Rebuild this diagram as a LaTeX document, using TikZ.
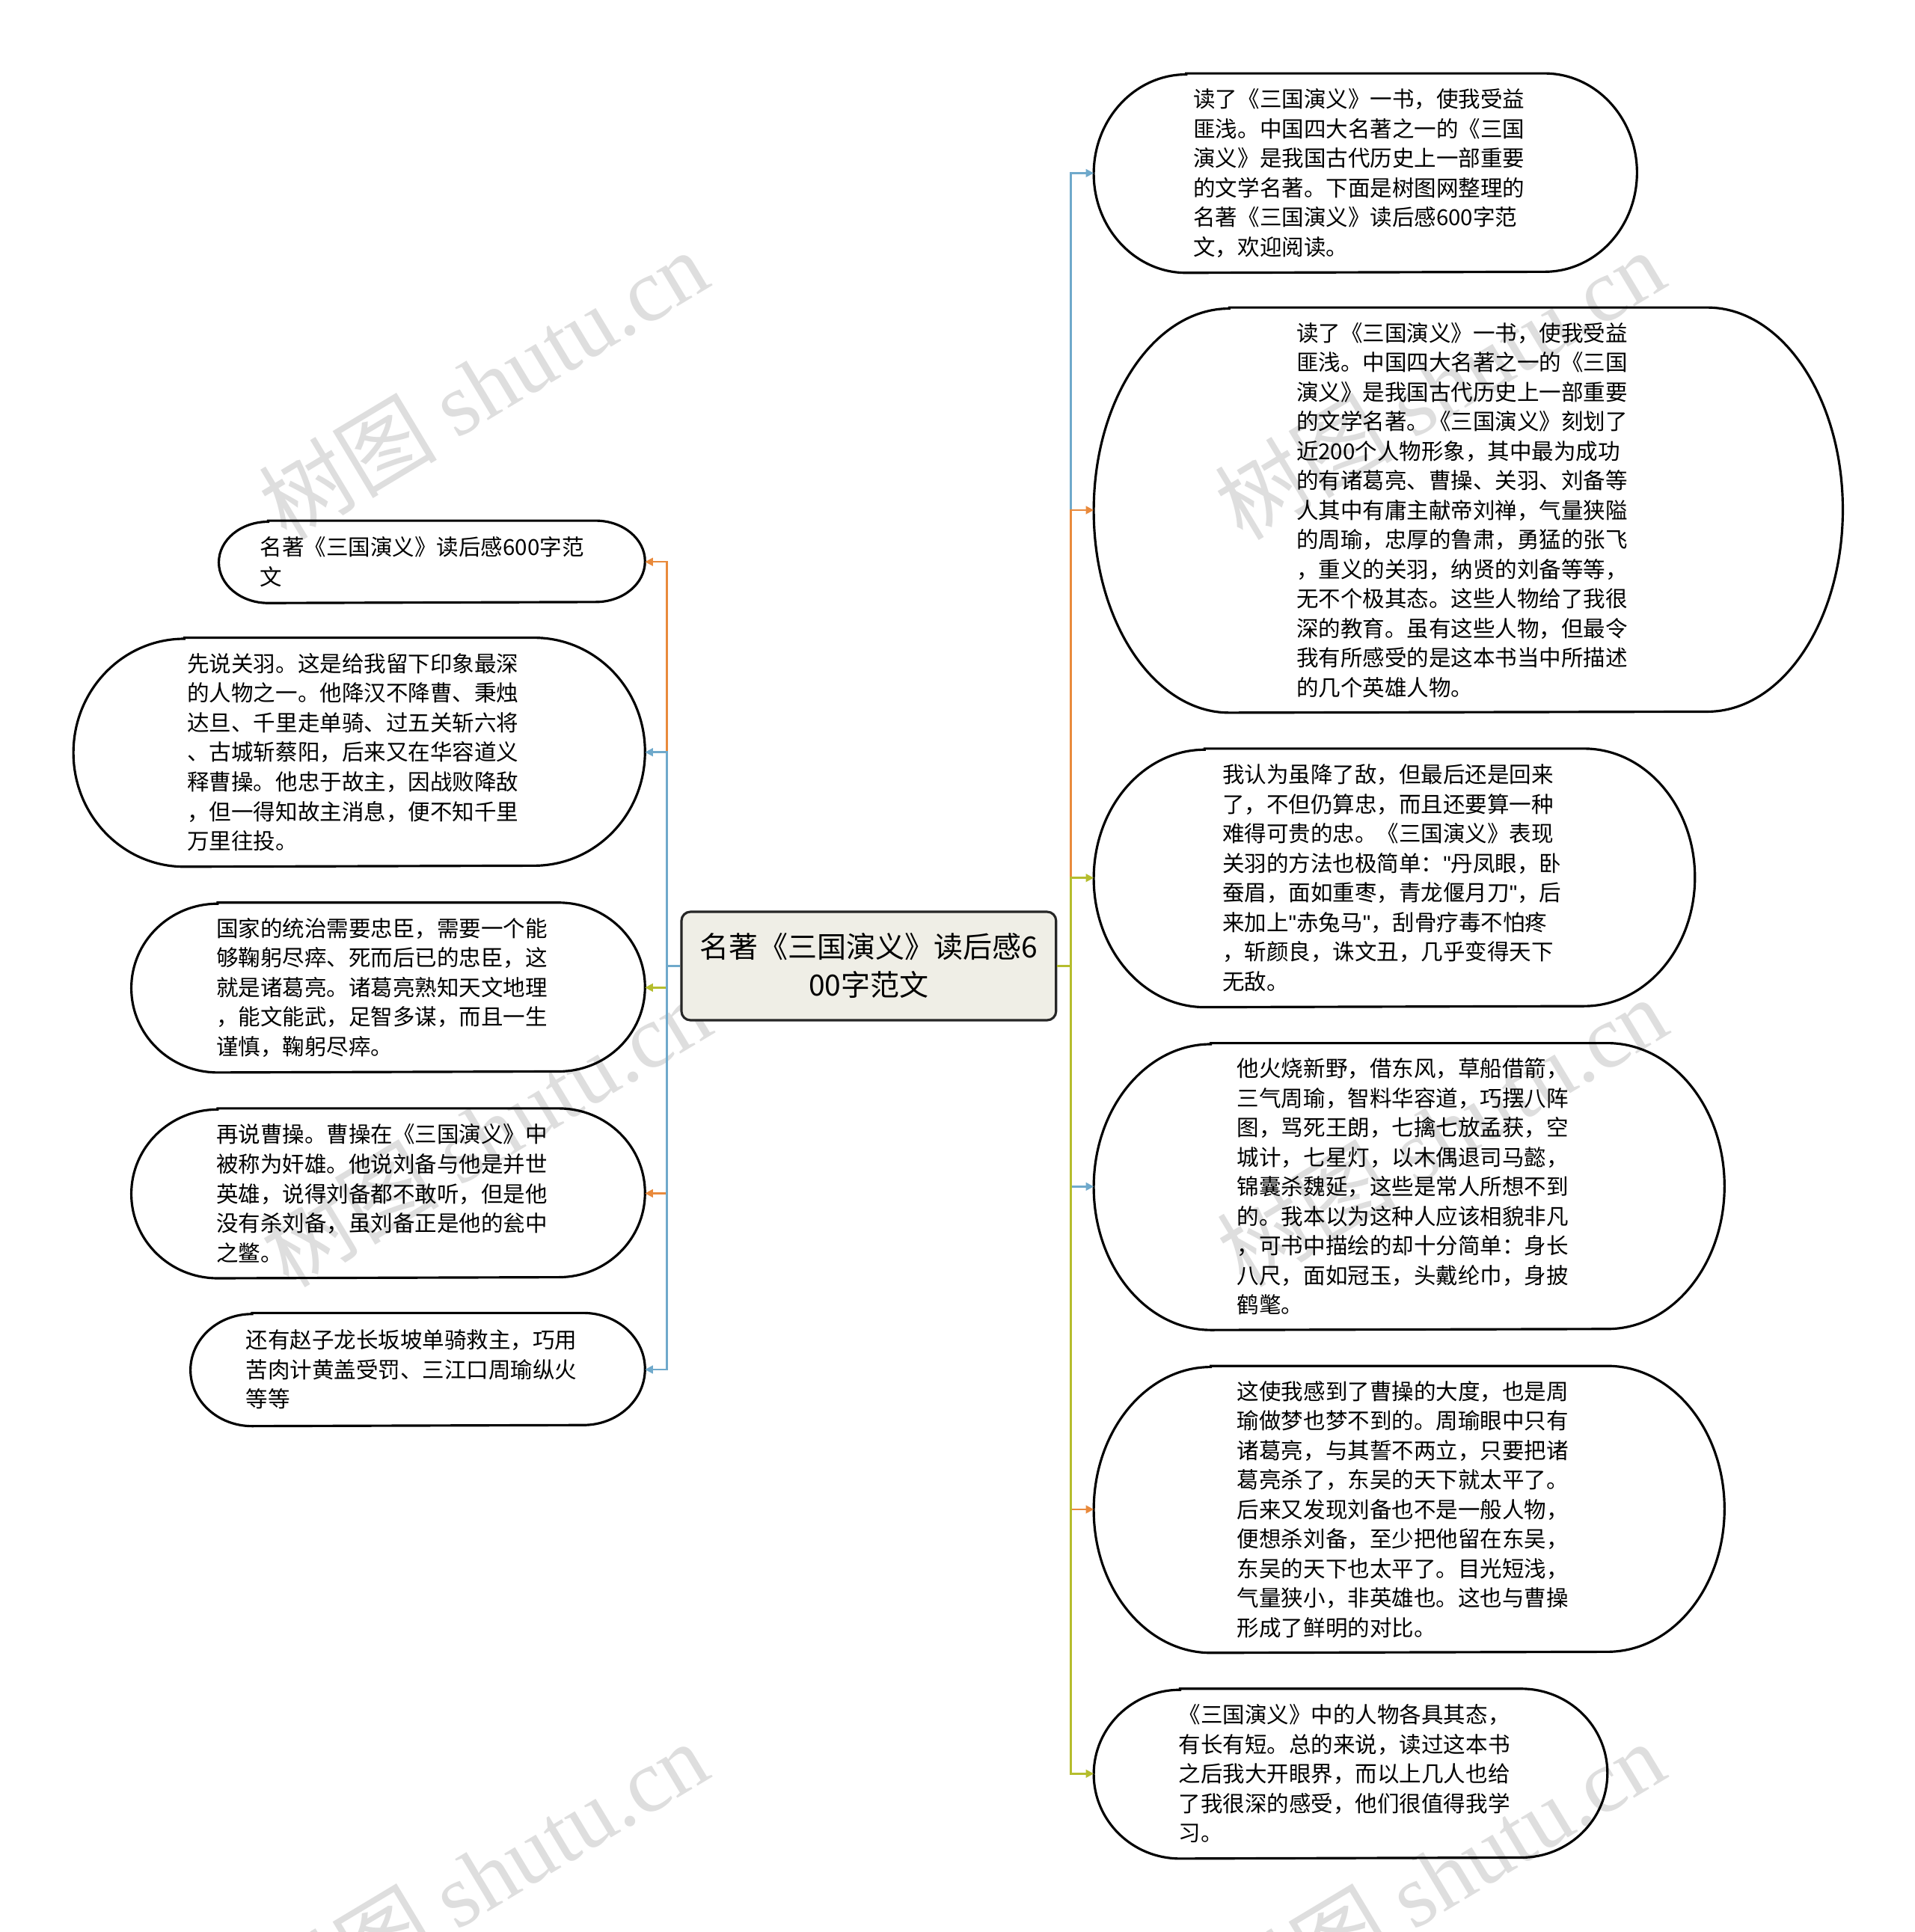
\documentclass[tikz,border=0pt]{standalone}
\usepackage{fontspec}
\setmainfont{Noto Sans CJK SC}
\newfontfamily\wmfont{Liberation Serif}
\newfontfamily\quotefont{Liberation Sans}
\usetikzlibrary{arrows.meta, calc}
\definecolor{linkblue}{HTML}{6FA9CB}
\definecolor{linkorange}{HTML}{E98A3C}
\definecolor{linkolive}{HTML}{B5BD2D}
\definecolor{topicfill}{HTML}{EFEEE6}
\newcommand\pxl{0.16474mm}
\newcommand\qq{{\quotefont"}}
% outline of a bubble: node, x radius, y radius (half height)
\newcommand\bubblerim[3]{%
  \draw[rim] ($(#1.north west)+(#2,0)$) -- ($(#1.north east)+(-#2,0)$)
    arc[start angle=90, end angle=-90, x radius=#2*\pxl, y radius=#3*\pxl]
    -- ($(#1.south west)+(#2,0)$)
    arc[start angle=270, end angle=90, x radius=#2*\pxl, y radius=#3*\pxl] -- cycle;}

\begin{document}
\begin{tikzpicture}[x=\pxl, y=\pxl,
    topic/.style={draw=black!85, line width=0.9pt, fill=topicfill, rounded corners=1.2mm, inner sep=0pt,
      align=center, font=\fontsize{11.1pt}{14.5pt}\selectfont},
    bubble/.style={inner sep=0pt, text width=279*\pxl, align=left, font=\fontsize{8.4pt}{11.25pt}\selectfont},
    rim/.style={draw=black, line width=0.9pt},
    link/.style={-{Triangle[length=3pt, width=3pt]}, line width=0.7pt},
    wmark/.style={text=black!13, rotate=31, font=\fontsize{34pt}{34pt}\selectfont}]
\useasboundingbox (0,0) rectangle (1554,-1568);
\fill[white] (0,0) rectangle (1554,-1568);

% watermarks
\node[wmark] (wm1) at (392,-312) {树图 {\wmfont shutu.cn}};
\node[wmark] (wm2) at (1168,-312) {树图 {\wmfont shutu.cn}};
\node[wmark] (wm3) at (394,-918) {树图 {\wmfont shutu.cn}};
\node[wmark] (wm4) at (1170,-918) {树图 {\wmfont shutu.cn}};
\node[wmark] (wm5) at (392,-1522) {树图 {\wmfont shutu.cn}};
\node[wmark] (wm6) at (1168,-1522) {树图 {\wmfont shutu.cn}};

\node[topic, minimum width=304*\pxl, minimum height=88*\pxl] (main) at (705,-784)
  {名著《三国演义》读后感6\\00字范文};

% right side
\node[bubble, minimum width=440*\pxl, minimum height=161*\pxl] (r1) at (1108,-140.5)
  {读了《三国演义》一书，使我受益\\匪浅。中国四大名著之一的《三国\\演义》是我国古代历史上一部重要\\的文学名著。下面是树图网整理的\\名著《三国演义》读后感600字范\\文，欢迎阅读。};
\node[bubble, minimum width=607*\pxl, minimum height=328*\pxl] (r2) at (1191.5,-414)
  {读了《三国演义》一书，使我受益\\匪浅。中国四大名著之一的《三国\\演义》是我国古代历史上一部重要\\的文学名著。《三国演义》刻划了\\近200个人物形象，其中最为成功\\的有诸葛亮、曹操、关羽、刘备等\\人其中有庸主献帝刘禅，气量狭隘\\的周瑜，忠厚的鲁肃，勇猛的张飞\\，重义的关羽，纳贤的刘备等等，\\无不个极其态。这些人物给了我很\\深的教育。虽有这些人物，但最令\\我有所感受的是这本书当中所描述\\的几个英雄人物。};
\node[bubble, minimum width=487*\pxl, minimum height=209*\pxl] (r3) at (1131.5,-712.5)
  {我认为虽降了敌，但最后还是回来\\了，不但仍算忠，而且还要算一种\\难得可贵的忠。《三国演义》表现\\关羽的方法也极简单：\qq 丹凤眼，卧\\蚕眉，面如重枣，青龙偃月刀\qq，后\\来加上\qq 赤兔马\qq，刮骨疗毒不怕疼\\，斩颜良，诛文丑，几乎变得天下\\无敌。};
\node[bubble, minimum width=511*\pxl, minimum height=232*\pxl] (r4) at (1143.5,-963)
  {他火烧新野，借东风，草船借箭，\\三气周瑜，智料华容道，巧摆八阵\\图，骂死王朗，七擒七放孟获，空\\城计，七星灯，以木偶退司马懿，\\锦囊杀魏延，这些是常人所想不到\\的。我本以为这种人应该相貌非凡\\，可书中描绘的却十分简单：身长\\八尺，面如冠玉，头戴纶巾，身披\\鹤氅。};
\node[bubble, minimum width=511*\pxl, minimum height=232*\pxl] (r5) at (1143.5,-1225)
  {这使我感到了曹操的大度，也是周\\瑜做梦也梦不到的。周瑜眼中只有\\诸葛亮，与其誓不两立，只要把诸\\葛亮杀了，东吴的天下就太平了。\\后来又发现刘备也不是一般人物，\\便想杀刘备，至少把他留在东吴，\\东吴的天下也太平了。目光短浅，\\气量狭小，非英雄也。这也与曹操\\形成了鲜明的对比。};
\node[bubble, minimum width=416*\pxl, minimum height=137*\pxl] (r6) at (1096,-1439.5)
  {《三国演义》中的人物各具其态，\\有长有短。总的来说，读过这本书\\之后我大开眼界，而以上几人也给\\了我很深的感受，他们很值得我学\\习。};

% left side
\node[bubble, minimum width=345*\pxl, minimum height=66*\pxl] (l1) at (350.5,-456)
  {名著《三国演义》读后感600字范\\文};
\node[bubble, minimum width=463*\pxl, minimum height=185*\pxl] (l2) at (291.5,-610.5)
  {先说关羽。这是给我留下印象最深\\的人物之一。他降汉不降曹、秉烛\\达旦、千里走单骑、过五关斩六将\\、古城斩蔡阳，后来又在华容道义\\释曹操。他忠于故主，因战败降敌\\，但一得知故主消息，便不知千里\\万里往投。};
\node[bubble, minimum width=416*\pxl, minimum height=137*\pxl] (l3) at (315,-801.5)
  {国家的统治需要忠臣，需要一个能\\够鞠躬尽瘁、死而后已的忠臣，这\\就是诸葛亮。诸葛亮熟知天文地理\\，能文能武，足智多谋，而且一生\\谨慎，鞠躬尽瘁。};
\node[bubble, minimum width=416*\pxl, minimum height=137*\pxl] (l4) at (315,-968.5)
  {再说曹操。曹操在《三国演义》中\\被称为奸雄。他说刘备与他是并世\\英雄，说得刘备都不敢听，但是他\\没有杀刘备，虽刘备正是他的瓮中\\之鳖。};
\node[bubble, minimum width=368*\pxl, minimum height=91*\pxl] (l5) at (339,-1111.5)
  {还有赵子龙长坂坡单骑救主，巧用\\苦肉计黄盖受罚、三江口周瑜纵火\\等等};

\bubblerim{r1}{75}{80.5}
\bubblerim{r2}{110}{164}
\bubblerim{r3}{90}{104.5}
\bubblerim{r4}{95}{116}
\bubblerim{r5}{95}{116}
\bubblerim{r6}{70}{68.5}
\bubblerim{l1}{40}{33}
\bubblerim{l2}{90}{92.5}
\bubblerim{l3}{70}{68.5}
\bubblerim{l4}{70}{68.5}
\bubblerim{l5}{50}{45.5}

\draw[link, linkblue] (main.east) -- ++(11,0) |- (r1.west);
\draw[link, linkorange] (main.east) -- ++(11,0) |- (r2.west);
\draw[link, linkolive] (main.east) -- ++(11,0) |- (r3.west);
\draw[link, linkblue] (main.east) -- ++(11,0) |- (r4.west);
\draw[link, linkorange] (main.east) -- ++(11,0) |- (r5.west);
\draw[link, linkolive] (main.east) -- ++(11,0) |- (r6.west);
\draw[link, linkorange] (main.west) -- ++(-11,0) |- (l1.east);
\draw[link, linkblue] (main.west) -- ++(-11,0) |- (l2.east);
\draw[link, linkolive] (main.west) -- ++(-11,0) |- (l3.east);
\draw[link, linkorange] (main.west) -- ++(-11,0) |- (l4.east);
\draw[link, linkblue] (main.west) -- ++(-11,0) |- (l5.east);
\end{tikzpicture}
\end{document}
